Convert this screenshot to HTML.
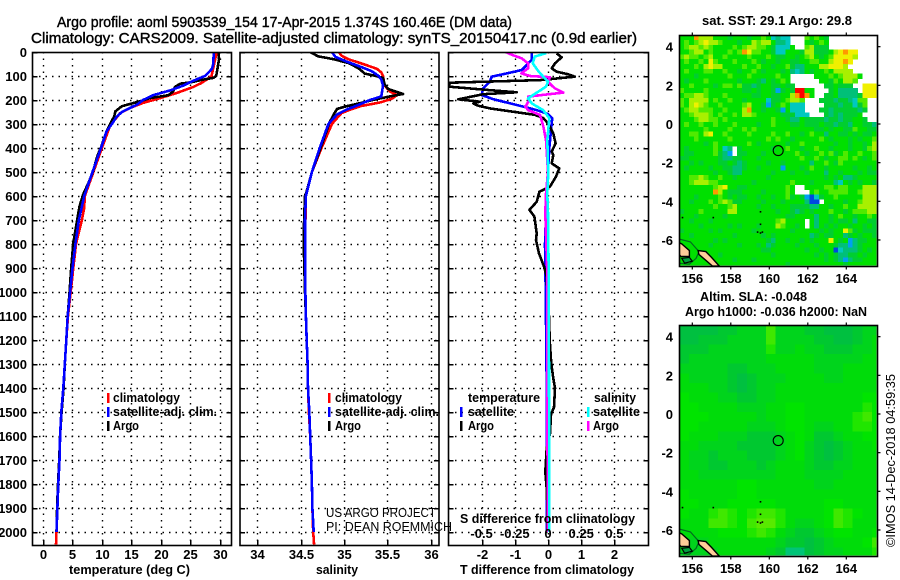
<!DOCTYPE html>
<html lang="en">
<head>
<meta charset="utf-8">
<title>Argo profile 5903539_154</title>
<style>
html,body{margin:0;padding:0;background:#fff;}
svg{display:block;font-family:"Liberation Sans",Arial,sans-serif;}
text{fill:#000;font-weight:bold;font-size:13px;}
.thin{font-weight:normal;}
.title{font-weight:normal;font-size:14.5px;stroke:#000;stroke-width:0.4px;}
</style>
</head>
<body>
<svg id="chart" xmlns="http://www.w3.org/2000/svg" width="900" height="580" viewBox="0 0 900 580">
  <rect x="0" y="0" width="900" height="580" fill="#fff"/>
  <defs>
    <clipPath id="clip-t"><rect x="32" y="52" width="199" height="493"/></clipPath>
    <clipPath id="clip-s"><rect x="240" y="52" width="199" height="493"/></clipPath>
    <clipPath id="clip-d"><rect x="449" y="52" width="199" height="493"/></clipPath>
    <clipPath id="clip-m1"><rect x="679.5" y="35.5" width="197" height="230"/></clipPath>
    <clipPath id="clip-m1-land"><rect x="679.5" y="35.5" width="198" height="231"/></clipPath>
    <clipPath id="clip-m2"><rect x="679.5" y="325.5" width="197" height="230"/></clipPath>
    <clipPath id="clip-m2-land"><rect x="679.5" y="325.5" width="198" height="231"/></clipPath>
  </defs>

  <text class="title" x="57" y="27" textLength="455" lengthAdjust="spacingAndGlyphs">Argo profile: aoml 5903539_154 17-Apr-2015 1.374S 160.46E (DM data)</text>
  <text class="title" x="31" y="43" textLength="606" lengthAdjust="spacingAndGlyphs">Climatology: CARS2009. Satellite-adjusted climatology: synTS_20150417.nc (0.9d earlier)</text>

  <g id="panels"></g>
  <g id="maps"></g>

  <text x="69" y="574" textLength="121" lengthAdjust="spacingAndGlyphs">temperature (deg C)</text>
  <text x="316" y="574" textLength="42" lengthAdjust="spacingAndGlyphs">salinity</text>
  <text x="460" y="574" textLength="174" lengthAdjust="spacingAndGlyphs">T difference from climatology</text>
  <text x="460" y="523" textLength="175" lengthAdjust="spacingAndGlyphs">S difference from climatology</text>

  <g>
    <rect x="107" y="393" width="2.5" height="10" fill="#f00"/>
    <text x="113" y="402" textLength="67" lengthAdjust="spacingAndGlyphs">climatology</text>
    <rect x="107" y="407" width="2.5" height="10" fill="#00f"/>
    <text x="113" y="416" textLength="104" lengthAdjust="spacingAndGlyphs">satellite-adj. clim.</text>
    <rect x="107" y="421" width="2.5" height="10" fill="#000"/>
    <text x="113" y="430" textLength="26" lengthAdjust="spacingAndGlyphs">Argo</text>
  </g>
  <g>
    <rect x="328" y="393" width="2.5" height="10" fill="#f00"/>
    <text x="335" y="402" textLength="67" lengthAdjust="spacingAndGlyphs">climatology</text>
    <rect x="328" y="407" width="2.5" height="10" fill="#00f"/>
    <text x="335" y="416" textLength="104" lengthAdjust="spacingAndGlyphs">satellite-adj. clim.</text>
    <rect x="328" y="421" width="2.5" height="10" fill="#000"/>
    <text x="335" y="430" textLength="26" lengthAdjust="spacingAndGlyphs">Argo</text>
  </g>
  <g>
    <text x="468" y="402" textLength="72" lengthAdjust="spacingAndGlyphs">temperature</text>
    <rect x="460" y="407" width="2.5" height="10" fill="#00f"/>
    <text x="468" y="416" textLength="46" lengthAdjust="spacingAndGlyphs">satellite</text>
    <rect x="460" y="421" width="2.5" height="10" fill="#000"/>
    <text x="468" y="430" textLength="26" lengthAdjust="spacingAndGlyphs">Argo</text>
    <text x="594" y="402" textLength="42" lengthAdjust="spacingAndGlyphs">salinity</text>
    <rect x="587" y="407" width="2.5" height="10" fill="#0ff"/>
    <text x="593" y="416" textLength="47" lengthAdjust="spacingAndGlyphs">satellite</text>
    <rect x="587" y="421" width="2.5" height="10" fill="#f0f"/>
    <text x="593" y="430" textLength="26" lengthAdjust="spacingAndGlyphs">Argo</text>
  </g>

  <text class="thin" x="326" y="517" textLength="110" lengthAdjust="spacingAndGlyphs">US ARGO PROJECT</text>
  <text class="thin" x="326" y="531" textLength="126" lengthAdjust="spacingAndGlyphs">PI: DEAN ROEMMICH</text>

  <text x="702" y="25" textLength="150" lengthAdjust="spacingAndGlyphs">sat. SST: 29.1  Argo: 29.8</text>
  <text x="700" y="301" textLength="107" lengthAdjust="spacingAndGlyphs">Altim. SLA: -0.048</text>
  <text x="685" y="316" textLength="182" lengthAdjust="spacingAndGlyphs">Argo h1000: -0.036 h2000: NaN</text>
  <text class="thin" transform="translate(895 547) rotate(-90)" x="0" y="0" textLength="173" lengthAdjust="spacingAndGlyphs">©IMOS 14-Dec-2018 04:59:35</text>
</svg>

<script>
// ---- Profile data (depth in dbar, temperature in deg C, salinity in psu) ----
const climTDepth = [0,100,115,129,146,171,192,212,233,254,282,300,400,500,600,650,700,800,900,1000,1100,1200,1300,1400,1500,1600,1700,1800,1900,2000,2053];
const climT = [29.5,28.6,27.8,26.9,25.5,22.7,19.9,17,14.8,13.1,12.2,11.5,10,8.55,7.1,7,6.6,5.6,5.15,4.7,4.25,3.95,3.7,3.45,3.1,2.9,2.8,2.6,2.45,2.3,2.2];
const satTDepth = [0,50,70,85,100,120,140,160,180,200,220,240,250,270,300,330,400,500,600,700,800,900,1000,1100,1200,1300,1400,1500,1600,1700,1800,1900,2000];
const satT = [29,28.9,28.7,28.1,27.5,25.5,23.8,21.6,18.7,17,15.9,14.2,13.4,12.5,11.7,10.8,9.85,8.4,7,6.1,5.5,5,4.6,4.2,3.95,3.7,3.45,3.1,2.9,2.8,2.6,2.45,2.3];
const argoTDepth = [0,30,100,108,115,126,132,146,164,180,192,205,226,247,268,300,337,400,435,497,546,594,643,699,796,893,1004,1100,1200,1300,1400,1500,1600,1700,1800,1900,2000];
const argoT = [29.8,29.9,29.4,28.9,27.2,25.2,23.3,22.4,22.1,21.3,18.2,16.5,13.4,12.3,12.1,11.4,10.7,9.8,9.2,8.5,7.7,6.8,6.2,5.8,5.15,4.8,4.5,4.2,3.95,3.7,3.5,3.15,2.9,2.75,2.55,2.4,2.3];

const climSDepth = [0,15,30,50,70,85,100,140,165,180,195,210,225,240,255,300,400,500,600,800,1000,1100,1200,1300,1400,1500,1600,1700,1800,1900,2000,2053];
const climS = [34.94,34.97,35.05,35.22,35.38,35.43,35.45,35.47,35.53,35.61,35.55,35.42,35.2,35.07,34.97,34.86,34.74,34.63,34.56,34.55,34.555,34.56,34.57,34.58,34.585,34.595,34.61,34.62,34.63,34.635,34.645,34.655];
const satSDepth = [0,20,40,60,80,100,115,140,185,200,220,240,260,300,400,500,600,700,1000,1100,1200,1300,1400,1500,1600,1700,1800,1900,2000];
const satS = [34.86,34.9,35.03,35.18,35.32,35.4,35.43,35.45,35.43,35.3,35.17,35.03,34.92,34.82,34.72,34.63,34.56,34.55,34.555,34.56,34.57,34.58,34.585,34.6,34.61,34.62,34.63,34.635,34.65];
const argoSDepth = [0,18,30,46,67,90,101,108,136,154,164,175,185,199,212,226,237,261,296,400,500,580,600,700,800,1000,1100,1200,1300,1400,1500,1600,1700,1800,1900,2000];
const argoS = [34.61,34.7,34.88,35.05,35.165,35.24,35.38,35.45,35.47,35.51,35.59,35.68,35.53,35.34,35.2,35.03,34.92,34.88,34.83,34.73,34.63,34.57,34.55,34.54,34.535,34.55,34.56,34.57,34.58,34.585,34.6,34.61,34.62,34.63,34.635,34.65];

const diffTArgoDepth = [6,22,47,68,82,93,103,117,128,144,158,168,176,197,207,214,224,235,249,262,276,297,339,381,415,429,464,485,519,561,582,624,658,686,756,783,839,894,936,1000,1100,1200,1300,1360,1400,1480,1510,1590,1650,1750,1820,1900,2000];
const diffTArgo = [0.26,0.41,0.21,0.11,0.26,0.61,0.81,-0.24,-2.95,-3,-1.85,-0.94,-1.95,-2.7,-2.05,-2.25,-2.1,-1.75,-1.04,-0.39,-0.14,0,0.16,0.23,0.11,0.16,0.11,0.34,0.24,0.06,-0.26,-0.34,-0.56,-0.41,-0.34,-0.36,-0.27,-0.12,-0.04,-0.02,0.03,0.05,0.1,0.16,0.21,0.18,0.09,0.06,-0.04,-0.08,-0.04,-0.02,-0.02];
const diffTSatDepth = [0,33,75,89,103,124,151,179,197,221,242,258,276,297,400,480,590,800,1000,1500,2000];
const diffTSat = [-0.49,-0.49,-0.79,-1.24,-1.7,-1.75,-1.95,-2,-1.64,-0.94,-0.34,0,0.13,0.11,0.04,0.01,-0.04,-0.09,-0.07,-0.03,-0.04];
const diffSArgoDepth = [0,12,26,47,68,89,100,105,124,151,169,186,200,228,242,262,311,368,500,590,672,922,1500,2000];
const diffSArgo = [-0.32,-0.27,-0.2,-0.15,-0.15,-0.2,-0.135,0.015,0,0.05,0.115,-0.15,-0.14,-0.17,-0.15,-0.06,-0.035,-0.015,0,-0.015,-0.02,-0.005,-0.005,0];
const diffSSatDepth = [0,6,19,47,82,124,144,193,215,243,276,368,500,590,672,922,1500,2000];
const diffSSat = [-0.05,-0.02,-0.1,-0.115,-0.07,0,-0.015,-0.15,-0.12,-0.035,0.01,-0.005,0.002,-0.005,0,0.005,0.008,0.01];

// ---- Axis tick values ----
const depthTicks = [0,100,200,300,400,500,600,700,800,900,1000,1100,1200,1300,1400,1500,1600,1700,1800,1900,2000];
const tempTicks = [0,5,10,15,20,25,30];
const salTicks = [34,34.5,35,35.5,36];
const salTickLabels = ['34','34.5','35','35.5','36'];
const diffTTicks = [-2,-1,0,1,2];
const diffTTickLabels = ['-2','-1','0','1','2'];
const diffSTicks = [-0.5,-0.25,0,0.25,0.5];
const diffSTickLabels = ['-0.5','-0.25','0','0.25','0.5'];
const lonTicks = [156,158,160,162,164];
const latTicks = [4,2,0,-2,-4,-6];

// ---- Float position ----
const floatLon = [160.46];
const floatLat = [-1.374];

// ---- Satellite SST map: colour-class values on a quarter-degree grid (top row first) ----
const _ = null;
const sstGrid = [
[5,5,5,9,7,7,7,5,5,5,4,5,5,5,4,5,5,6,5,2,3,2,2,_,_,_,6,5,6,5,4,_,_,_,_,_,_,_,_,_,_],
[5,6,5,6,7,8,7,7,6,5,5,5,4,5,5,7,6,7,7,5,3,3,2,_,_,_,5,4,5,6,5,_,_,_,_,_,_,_,_,_,_],
[5,6,7,7,6,7,6,5,5,5,5,6,5,6,7,7,6,6,5,4,2,2,2,5,_,_,6,7,4,4,4,_,_,_,_,_,_,_,_,_,_],
[5,5,6,7,7,5,6,5,5,5,6,5,6,9,8,6,6,5,5,4,2,2,5,5,5,4,7,7,4,4,4,5,7,8,9,8,8,_,_,_,_],
[6,7,6,6,5,6,7,5,5,6,5,5,5,5,6,5,5,5,6,5,4,4,5,5,4,5,6,7,5,4,5,6,8,8,8,8,7,_,_,_,_],
[5,6,5,5,6,5,8,6,5,5,5,6,5,5,5,6,5,4,5,5,4,5,5,4,4,5,5,6,6,5,5,7,8,8,9,8,_,_,_,_,_],
[5,5,5,6,5,7,8,7,7,5,5,5,5,6,5,5,6,5,5,4,5,5,6,4,3,3,5,5,5,7,7,8,8,8,7,_,_,_,_,_,_],
[5,6,5,5,5,6,6,5,5,6,5,5,4,5,5,6,5,4,5,5,5,4,5,3,2,3,5,4,5,5,6,5,7,7,7,7,_,_,_,_,_],
[5,5,5,4,5,5,5,5,5,5,6,5,5,5,6,5,5,5,5,5,6,5,5,_,_,_,_,_,5,5,5,6,5,6,7,7,7,5,_,_,_],
[5,4,5,5,5,6,5,5,5,5,5,5,4,5,5,5,4,3,5,4,5,6,5,_,_,_,_,_,_,5,5,4,6,5,7,7,6,_,_,_,_],
[5,5,6,5,5,5,5,4,5,6,6,5,6,4,4,3,4,5,5,4,4,5,4,4,_,_,_,_,_,_,4,4,5,4,4,4,_,_,8,8,8],
[6,5,5,5,5,6,5,5,5,5,5,5,5,4,4,5,4,5,5,4,1,4,5,4,10,10,5,5,_,_,_,4,5,3,3,3,3,_,8,8,8],
[5,6,6,7,7,6,5,5,5,6,5,5,5,5,5,4,4,5,5,4,4,5,5,7,9,10,9,5,_,_,4,4,5,3,3,3,3,4,8,8,8],
[6,5,7,7,7,7,5,6,5,5,6,5,5,4,5,5,5,5,2,4,4,5,6,7,7,6,_,_,_,4,4,4,3,4,4,3,2,6,6,_,_],
[6,5,7,8,7,6,5,5,6,5,5,5,5,6,7,5,5,4,1,4,5,6,5,2,2,2,_,_,_,_,4,4,4,3,4,4,2,4,6,_,_],
[5,6,7,7,6,6,6,5,5,6,5,5,5,7,9,5,5,4,5,5,4,1,5,2,2,2,_,_,_,4,4,3,4,4,4,4,4,3,4,_,_],
[5,5,6,7,7,7,6,5,6,5,5,6,5,7,7,6,5,5,5,5,5,4,4,4,2,2,2,_,_,_,4,3,4,3,4,4,4,5,_,_,_],
[5,5,5,6,7,7,6,6,5,6,5,5,5,5,5,5,5,5,5,6,5,5,4,3,3,5,4,4,4,4,3,4,4,3,4,4,5,5,4,_,_],
[5,6,5,5,6,5,5,6,5,5,5,6,5,5,5,5,4,5,5,6,5,5,5,4,4,5,4,4,4,5,4,4,3,4,4,3,5,5,4,4,3],
[5,5,5,5,5,6,5,5,5,5,6,5,5,6,5,6,5,5,5,5,5,5,5,5,5,5,5,5,4,4,5,4,5,5,4,4,6,5,5,4,4],
[5,5,6,6,5,7,8,5,5,6,5,5,5,5,6,5,5,5,5,6,5,5,6,5,5,4,5,6,5,5,3,5,5,4,4,5,4,5,4,4,5],
[5,5,5,6,5,5,5,5,5,5,6,5,5,5,5,5,5,5,6,5,6,5,5,4,5,5,5,5,5,6,5,4,5,5,5,4,5,4,5,5,6],
[5,5,5,5,5,4,5,6,5,5,5,5,5,5,6,5,4,5,5,5,5,5,4,5,5,6,5,5,5,5,5,5,4,5,5,4,5,5,4,5,7],
[5,4,5,5,5,5,5,6,5,2,3,_,4,5,5,5,5,5,5,4,5,5,6,5,5,4,5,5,6,5,5,4,5,5,5,4,5,5,4,6,7],
[5,4,4,5,5,5,5,6,4,3,1,_,4,4,5,5,5,4,5,5,5,5,5,5,6,5,4,5,5,6,5,6,4,5,6,5,5,6,5,5,6],
[4,4,5,5,5,5,5,5,4,3,3,4,4,5,5,5,4,5,5,5,5,5,5,5,5,6,5,5,6,5,4,5,5,6,6,5,6,5,4,5,6],
[5,5,4,5,4,5,5,5,4,4,5,4,3,4,5,5,5,5,4,5,5,4,5,5,5,5,5,3,5,5,6,5,4,6,5,5,5,5,5,5,5],
[5,4,5,5,5,5,4,5,5,4,4,3,3,4,5,5,4,5,5,5,5,1,5,5,5,4,5,6,5,5,4,5,5,5,5,5,4,5,5,4,5],
[5,5,5,5,5,5,5,4,5,5,4,3,3,5,5,5,5,5,5,4,5,5,5,4,5,5,4,5,5,5,3,5,5,4,5,5,5,4,5,4,4],
[5,5,6,6,7,6,5,5,6,5,5,4,5,5,5,5,5,5,4,5,5,5,5,5,5,5,5,5,5,5,4,5,4,5,3,3,4,5,5,5,5],
[5,5,6,7,7,7,6,6,5,5,5,5,5,5,5,4,5,5,5,5,5,5,5,6,5,5,5,4,5,5,5,5,3,2,5,4,5,4,5,5,4],
[5,5,5,5,5,5,5,6,7,8,5,5,4,4,5,5,5,5,5,5,5,5,6,5,_,_,5,5,5,5,6,6,5,6,6,5,5,5,7,7,7],
[5,5,5,5,5,5,5,9,7,5,4,4,4,5,5,5,5,4,5,5,5,5,6,5,_,_,_,5,6,5,5,6,6,6,6,5,5,6,7,7,7],
[5,5,5,4,5,5,5,5,6,5,4,5,4,4,5,5,4,5,5,4,5,5,6,4,5,4,1,0,2,4,5,5,6,5,5,5,5,5,7,7,7],
[5,5,4,5,5,5,6,5,6,7,6,4,4,5,5,5,5,4,5,5,5,4,5,5,5,5,3,0,0,_,5,5,5,5,4,5,5,6,7,7,7],
[5,5,5,5,5,5,5,6,5,5,6,7,5,5,5,5,4,5,5,4,5,5,5,4,4,4,4,3,3,5,5,4,5,5,6,5,5,7,7,7,7],
[4,5,5,5,6,5,5,5,5,5,7,7,5,5,5,5,5,5,5,5,4,5,5,4,3,4,5,4,5,5,5,6,5,5,4,5,6,6,6,7,7],
[5,5,5,4,5,5,5,5,5,4,5,5,5,5,5,5,5,5,5,5,5,5,4,4,5,5,5,5,3,5,5,4,5,6,5,5,4,5,5,6,5],
[5,5,4,5,5,5,4,5,5,5,5,5,5,5,5,5,5,5,5,5,6,7,5,5,5,5,_,5,3,5,5,4,5,4,4,5,3,5,5,4,4],
[5,5,5,5,4,5,5,5,5,5,4,5,4,5,5,5,4,5,5,5,7,6,5,5,4,5,_,5,3,5,4,5,4,5,5,4,5,5,4,5,4],
[4,5,5,5,5,5,4,5,4,5,5,5,5,5,5,4,5,5,5,5,5,5,5,4,5,5,5,5,5,4,5,4,5,5,8,6,4,5,4,4,4],
[5,5,4,5,5,5,5,5,5,5,5,4,5,5,5,5,5,4,5,4,5,5,5,5,5,5,5,3,4,5,4,4,5,5,3,4,5,4,5,5,4],
[5,5,5,5,5,5,5,4,5,4,5,5,5,5,5,5,5,5,4,3,5,5,4,5,5,4,5,4,5,5,5,8,5,4,5,1,3,4,4,5,5],
[5,5,5,5,5,5,4,5,5,5,5,5,4,5,5,5,4,5,3,4,5,5,5,5,4,5,5,5,4,5,5,5,4,3,3,1,3,4,5,5,5],
[5,5,5,5,5,5,5,5,5,5,5,5,5,5,5,5,5,4,4,5,5,5,5,5,5,5,4,5,5,4,5,5,0,2,3,3,3,4,5,4,5],
[5,5,5,5,5,5,5,5,4,5,5,5,5,5,5,5,5,5,5,4,5,5,5,5,5,5,5,5,4,5,4,5,4,3,3,4,4,5,4,5,5],
[5,5,5,5,5,5,5,5,5,5,5,4,5,5,5,4,5,5,5,5,5,5,5,5,5,5,5,5,5,5,4,5,4,3,1,3,4,4,5,5,5],
[5,5,5,5,5,5,5,5,5,5,5,5,5,5,5,5,5,5,5,5,5,5,4,5,5,5,5,5,5,5,5,5,5,5,4,5,5,5,5,5,5]
];

// ---- Altimetric SLA map: colour-class values on a half-degree grid (top row first) ----
const slaGrid = [
[1,1,1,1,2,2,3,3,3,7,3,3,3,2,2,1,1,1,2,3,3],
[1,1,2,2,2,3,3,3,3,7,3,3,3,3,2,2,1,1,2,3,4],
[2,2,2,3,3,3,3,3,3,6,3,3,4,3,3,2,2,2,3,3,4],
[2,3,3,3,3,3,3,3,3,4,4,4,4,4,3,3,3,3,3,4,4],
[3,3,3,3,3,2,2,3,3,3,4,4,4,4,3,3,3,4,4,4,4],
[4,3,3,3,3,2,1,2,3,3,3,4,4,4,4,3,3,4,4,4,4],
[4,4,4,3,3,2,1,2,3,3,4,4,4,4,4,4,4,4,4,4,4],
[5,4,4,4,3,3,2,2,3,3,4,4,4,4,4,4,4,4,4,5,5],
[5,5,4,4,4,4,3,3,3,4,4,5,5,4,4,4,4,4,4,6,5],
[5,5,5,4,4,4,4,4,3,4,4,5,5,4,4,4,4,4,6,7,5],
[5,5,4,4,4,4,4,3,3,3,4,5,5,4,3,3,4,4,6,6,5],
[5,4,4,4,3,3,3,2,2,2,3,4,5,4,2,2,3,4,4,5,5],
[4,4,3,3,3,3,2,2,2,2,3,4,5,3,2,1,2,3,4,4,5],
[4,3,3,2,3,3,3,2,2,2,3,4,5,3,2,1,2,3,4,4,4],
[4,3,3,2,2,3,3,3,2,3,4,4,4,3,2,2,3,3,4,4,4],
[4,4,3,3,3,3,3,3,3,3,4,4,4,3,3,3,3,4,4,4,4],
[4,4,4,4,4,4,5,5,4,4,4,4,4,4,3,3,4,4,4,4,4],
[5,4,4,4,4,4,5,5,4,4,4,4,4,4,4,4,4,4,4,4,4],
[5,5,4,4,4,5,5,5,5,5,4,4,4,4,4,5,5,4,4,4,4],
[5,4,4,6,7,6,5,6,7,7,6,4,4,4,4,5,7,6,5,4,4],
[4,4,4,7,7,6,5,7,8,8,6,4,3,3,4,5,7,6,4,4,4],
[4,4,4,4,5,5,5,6,7,6,4,3,2,2,3,4,5,5,4,4,5],
[3,3,3,4,4,4,4,4,4,4,3,2,2,1,2,3,4,4,4,5,7],
[3,3,3,3,4,4,4,4,4,3,2,0,0,1,2,3,3,4,4,4,6]
];

// ---- Coastlines and reef specks (lon, lat) ----
const landLonA = [155.2,155.45,155.85,155.85,155.4,155.2];
const landLatA = [-6.1,-6.2,-6.55,-6.85,-6.85,-6.6];
const landLonB = [156.3,156.7,157.0,157.4,157.05,156.7,156.35];
const landLatB = [-6.55,-6.6,-6.9,-7.35,-7.35,-7.05,-6.75];
const landLonC = [155.45,155.85,156.0,155.6];
const landLatC = [-6.95,-6.9,-7.1,-7.2];
const boundaryLon = [155.3,155.9,156.35,156.2,155.85,155.3];
const boundaryLat = [-5.95,-6.1,-6.6,-6.95,-7.25,-7.2];
const speckLon = [155.45,157.05,159.5,159.5,159.35,159.5,159.6,158.0,157.95];
const speckLat = [-4.8,-4.8,-4.5,-5.15,-5.55,-5.6,-5.55,-7.45,-7.45];

// ---- Colour classes ----
const sstColours = ['#0048e0','#00a0f0','#00c8c0','#00c078','#00ce30','#00e000','#50ea00','#a8f000','#f0f000','#ff9800','#ff0000'];
const slaColours = ['#00c478','#00c040','#00c830','#00d41c','#00dc0a','#00e400','#20e600','#40e800','#58ea00'];

// ---- Axis functions ----
const yDepth = d => 52 + 0.24 * d;
const xTemp = v => 43 + 5.89 * v;
const xSal = v => 257.3 + 86.7 * (v - 34);
const xDiffT = v => 548 + 33.2 * v;
const xDiffS = v => 548 + 132.8 * v;
const xLon = v => 692.3 + 19.25 * (v - 156);
const yLat1 = v => 124 - 19.33 * v;
const yLat2 = v => 414 - 19.33 * v;

const NS = 'http://www.w3.org/2000/svg';
function make(tag, parent, attrs, txt) {
  const node = document.createElementNS(NS, tag);
  for (const k in attrs) node.setAttribute(k, attrs[k]);
  if (txt !== undefined) node.textContent = txt;
  parent.appendChild(node);
  return node;
}
const panels = document.getElementById('panels');
const maps = document.getElementById('maps');

function drawLine(parent, name, depths, vals, xf, colour, clip, width) {
  const pts = vals.map((v, i) => xf(v).toFixed(1) + ',' + yDepth(depths[i]).toFixed(1)).join(' ');
  const line = make('polyline', parent, {points: pts, fill: 'none', stroke: colour, 'stroke-width': width, 'clip-path': 'url(#' + clip + ')', 'shape-rendering': 'crispEdges', 'stroke-linejoin': 'round'});
  
  
}

function drawPanel(name, left, width, xf, xTicks, labels, showDepth, labelY) {
  const g = make('g', panels, {});
  
  
  const top = 52, bottom = 545, right = left + width;
  depthTicks.forEach(d => {
    const y = Math.round(yDepth(d));
    if (d > 0) {
      const gl = make('line', g, {x1: left, x2: right, y1: y + 0.5, y2: y + 0.5, stroke: '#000', 'stroke-width': 1.4, 'stroke-dasharray': '1.5 5'});
      
      
    }
    const t1 = make('line', g, {x1: left, x2: left + 5, y1: y + 0.5, y2: y + 0.5, stroke: '#000', 'stroke-width': 1.5, 'shape-rendering': 'crispEdges'});
    
    
    const t2 = make('line', g, {x1: right - 5, x2: right, y1: y + 0.5, y2: y + 0.5, stroke: '#000', 'stroke-width': 1.5, 'shape-rendering': 'crispEdges'});
    
    
    if (showDepth) {
      const lab = make('text', g, {x: 27, y: y + 5, 'text-anchor': 'end'}, String(d));
      
      
    }
  });
  xTicks.forEach((v, i) => {
    const x = Math.round(xf(v));
    const gl = make('line', g, {x1: x + 0.5, x2: x + 0.5, y1: top, y2: bottom, stroke: '#000', 'stroke-width': 1.4, 'stroke-dasharray': '1.5 5'});
    
    
    const t1 = make('line', g, {x1: x + 0.5, x2: x + 0.5, y1: bottom - 5, y2: bottom, stroke: '#000', 'stroke-width': 1.5, 'shape-rendering': 'crispEdges'});
    
    
    const lab = make('text', g, {x: x + 0.5, y: labelY, 'text-anchor': 'middle'}, labels[i]);
    
    
  });
  return g;
}

function drawFrame(parent, name, x, y, w, h) {
  const f = make('rect', parent, {x: x, y: y, width: w, height: h, fill: 'none', stroke: '#000', 'stroke-width': 1.6});
  
  
}

// Temperature panel
const pT = drawPanel('temperature', 32.5, 199, xTemp, tempTicks, tempTicks.map(String), true, 559);
drawLine(pT, 'temperature-climatology-line', climTDepth, climT, xTemp, '#f00', 'clip-t', 2.6);
drawLine(pT, 'temperature-argo-line', argoTDepth, argoT, xTemp, '#000', 'clip-t', 2.6);
drawLine(pT, 'temperature-satellite-line', satTDepth, satT, xTemp, '#00f', 'clip-t', 2.6);
drawFrame(pT, 'temperature-plot-frame', 32.5, 52.5, 199, 493);

// Salinity panel
const pS = drawPanel('salinity', 240, 199, xSal, salTicks, salTickLabels, false, 559);
drawLine(pS, 'salinity-climatology-line', climSDepth, climS, xSal, '#f00', 'clip-s', 2.6);
drawLine(pS, 'salinity-argo-line', argoSDepth, argoS, xSal, '#000', 'clip-s', 2.6);
drawLine(pS, 'salinity-satellite-line', satSDepth, satS, xSal, '#00f', 'clip-s', 2.6);
drawFrame(pS, 'salinity-plot-frame', 240, 52.5, 199, 493);

// Difference panel
const pD = drawPanel('difference', 448.5, 200, xDiffT, diffTTicks, diffTTickLabels, false, 559);
drawLine(pD, 'difference-t-satellite-line', diffTSatDepth, diffTSat, xDiffT, '#00f', 'clip-d', 2.6);
drawLine(pD, 'difference-t-argo-line', diffTArgoDepth, diffTArgo, xDiffT, '#000', 'clip-d', 2.6);
drawLine(pD, 'difference-s-argo-line', diffSArgoDepth, diffSArgo, xDiffS, '#f0f', 'clip-d', 2.6);
drawLine(pD, 'difference-s-satellite-line', diffSSatDepth, diffSSat, xDiffS, '#0ff', 'clip-d', 2.6);
drawFrame(pD, 'difference-plot-frame', 448.5, 52.5, 200, 493);
diffSTicks.forEach((v, i) => {
  const lab = make('text', pD, {x: xDiffS(v), y: 538, 'text-anchor': 'middle'}, diffSTickLabels[i]);
  
  
});

// Map drawing
function polyPoints(lons, lats, yf) {
  return lons.map((v, i) => xLon(v).toFixed(1) + ',' + yf(lats[i]).toFixed(1)).join(' ');
}

function drawMap(name, grid, colours, step, yf, top, clip, clipLand, labelY) {
  const g = make('g', maps, {});
  
  
  const cells = make('g', g, {'clip-path': 'url(#' + clip + ')', 'shape-rendering': 'crispEdges'});
  
  
  const lon0 = 155.33, lat0 = 4.6;
  grid.forEach((row, r) => {
    row.forEach((val, c) => {
      if (val === null) return;
      const x = xLon(lon0 + c * step), y = yf(lat0 - r * step);
      const w = xLon(lon0 + (c + 1) * step) - x, h = yf(lat0 - (r + 1) * step) - y;
      const cell = make('rect', cells, {x: x.toFixed(2), y: y.toFixed(2), width: (w + 0.3).toFixed(2), height: (h + 0.3).toFixed(2), fill: colours[val]});
      
      
    });
  });
  const land = make('g', g, {'clip-path': 'url(#' + clipLand + ')'});
  
  
  const bd = make('polyline', land, {points: polyPoints(boundaryLon, boundaryLat, yf), fill: 'none', stroke: '#006a20', 'stroke-width': 1.2});
  
  
  const a = make('polygon', land, {points: polyPoints(landLonA, landLatA, yf), fill: '#ffcc99', stroke: '#000', 'stroke-width': 1.4});
  
  
  const b = make('polygon', land, {points: polyPoints(landLonB, landLatB, yf), fill: '#ffcc99', stroke: '#000', 'stroke-width': 1.4});
  
  
  const c = make('polygon', land, {points: polyPoints(landLonC, landLatC, yf), fill: '#00a040', stroke: '#000', 'stroke-width': 1.2});
  
  
  speckLon.forEach((v, i) => {
    const s = make('rect', land, {x: xLon(v).toFixed(1), y: yf(speckLat[i]).toFixed(1), width: 1.6, height: 1.6, fill: '#000'});
    
    
  });
  const marker = make('circle', g, {cx: xLon(floatLon[0]).toFixed(1), cy: yf(floatLat[0]).toFixed(1), r: 5, fill: 'none', stroke: '#000', 'stroke-width': 1.1});
  
  
  drawFrame(g, name + '-frame', 679.5, top, 198, 231);
  lonTicks.forEach(v => {
    const x = xLon(v);
    const t1 = make('line', g, {x1: x, x2: x, y1: top - 3, y2: top, stroke: '#000', 'stroke-width': 1.2});
    
    
    const t2 = make('line', g, {x1: x, x2: x, y1: top + 231, y2: top + 234, stroke: '#000', 'stroke-width': 1.2});
    
    
    const lab = make('text', g, {x: x, y: labelY, 'text-anchor': 'middle'}, String(v));
    
    
  });
  latTicks.forEach(v => {
    const y = yf(v);
    const t = make('line', g, {x1: 877.5, x2: 880.5, y1: y, y2: y, stroke: '#000', 'stroke-width': 1.2});
    
    
    const lab = make('text', g, {x: 673, y: y + 5, 'text-anchor': 'end'}, String(v));
    
    
  });
}

drawMap('sst-map', sstGrid, sstColours, 0.25, yLat1, 35.5, 'clip-m1', 'clip-m1-land', 283);
drawMap('sla-map', slaGrid, slaColours, 0.5, yLat2, 325.5, 'clip-m2', 'clip-m2-land', 573);
</script>
</body>
</html>
